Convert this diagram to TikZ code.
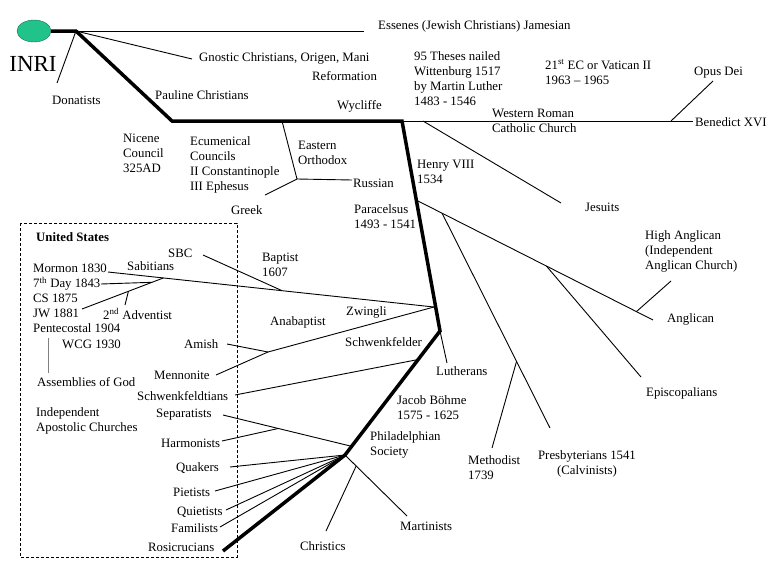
\documentclass[tikz,border=0pt]{standalone}
\usepackage{fontspec}
\setmainfont{Liberation Serif}
\usepackage{xcolor}
\usetikzlibrary{calc,shapes.geometric}

\definecolor{inrigreen}{HTML}{22C38A}
\definecolor{inriedge}{HTML}{1B6E4E}

\begin{document}
\begin{tikzpicture}[x=1pt, y=-1pt, font=\fontsize{12.8}{15}\selectfont,
  lbl/.style={inner sep=0pt, anchor=west, align=left},
  trunk/.style={line width=3.5pt},
  twig/.style={line width=0.9pt},
  usbox/.style={dash pattern=on 3pt off 2pt, line width=0.8pt}]
\useasboundingbox (0,0) rectangle (768,576);

\node (inri) [ellipse, draw=inriedge, fill=inrigreen, minimum width=34pt, minimum height=22pt, inner sep=0pt] at (34,31) {};
\node (inritxt) [inner sep=0pt, font=\fontsize{23}{26}\selectfont] at (33,64) {INRI};

\coordinate (t0) at (76,31);
\coordinate (t1) at (172,121);
\coordinate (t2) at (402,121);
\coordinate (t3) at (440,331);
\coordinate (t4) at (345,455);
\coordinate (t5) at (223,551);

\node (essenes) [lbl] at (378,26) {Essenes (Jewish Christians) Jamesian};
\node (gnostic) [lbl] at (199,58) {Gnostic Christians, Origen, Mani};
\node (donatists) [lbl] at (52,100) {Donatists};
\node (pauline) [lbl] at (155,95) {Pauline Christians};
\node (nicene) [lbl] at (123,153) {Nicene\\Council\\325AD};
\node (councils) [lbl] at (190,165) {Ecumenical\\Councils\\II Constantinople\\III Ephesus};
\node (eastern) [lbl] at (298,153) {Eastern\\Orthodox};
\node (russian) [lbl] at (353,183) {Russian};
\node (greek) [lbl] at (231,210) {Greek};
\node (reform) [lbl] at (312,76) {Reformation};
\node (wycliffe) [lbl] at (337,106) {Wycliffe};
\node (theses) [lbl] at (414,79) {95 Theses nailed\\Wittenburg 1517\\by Martin Luther\\1483 - 1546};
\node (vatican) [lbl] at (545,72) {21\textsuperscript{st} EC or Vatican II\\1963 – 1965};
\node (western) [lbl] at (492,121) {Western Roman\\Catholic Church};
\node (opus) [lbl] at (694,73) {Opus Dei};
\node (benedict) [lbl] at (695,122) {Benedict XVI};
\node (henry) [lbl] at (417,172) {Henry VIII\\1534};
\node (jesuits) [lbl] at (585,207) {Jesuits};
\node (paracelsus) [lbl] at (354,217) {Paracelsus\\1493 - 1541};
\node (highang) [lbl] at (645,251) {High Anglican\\(Independent\\Anglican Church)};
\node (anglican) [lbl] at (667,319) {Anglican};
\node (episc) [lbl] at (646,393) {Episcopalians};
\node (lutherans) [lbl] at (436,371) {Lutherans};
\node (methodist) [lbl] at (468,468) {Methodist\\1739};
\node (presby) [inner sep=0pt, align=center] at (587,464) {Presbyterians 1541\\(Calvinists)};
\node (jacob) [lbl] at (397,408) {Jacob Böhme\\1575 - 1625};
\node (phila) [lbl] at (370,445) {Philadelphian\\Society};
\node (martinists) [lbl] at (400,526) {Martinists};
\node (christics) [lbl] at (300,546) {Christics};
\node (baptist) [lbl] at (262,265) {Baptist\\1607};
\node (zwingli) [lbl] at (346,312) {Zwingli};
\node (anabaptist) [lbl] at (270,322) {Anabaptist};
\node (schwenk) [lbl] at (345,342) {Schwenkfelder};

\node (us) [lbl, font=\fontsize{12.8}{15}\selectfont\bfseries] at (36,237) {United States};
\node (sbc) [lbl] at (168,253) {SBC};
\node (sabitians) [lbl] at (127,266) {Sabitians};
\node (mormon) [lbl] at (33,268) {Mormon 1830};
\node (seventh) [lbl] at (33,284) {7\textsuperscript{th} Day 1843};
\node (cs) [lbl] at (33,298) {CS 1875};
\node (jw) [lbl] at (33,313) {JW 1881};
\node (adventist) [lbl] at (103,314) {2\textsuperscript{nd} Adventist};
\node (pentecostal) [lbl] at (33,328) {Pentecostal 1904};
\node (wcg) [lbl] at (62,344) {WCG 1930};
\node (assemblies) [lbl] at (37,382) {Assemblies of God};
\node (amish) [lbl] at (184,344) {Amish};
\node (mennonite) [lbl] at (154,375) {Mennonite};
\node (schwenkd) [lbl] at (137,396) {Schwenkfeldtians};
\node (apostolic) [lbl] at (36,421) {Independent\\Apostolic Churches};
\node (separatists) [lbl] at (156,415) {Separatists};
\node (harmonists) [lbl] at (161,443) {Harmonists};
\node (quakers) [lbl] at (176,468) {Quakers};
\node (pietists) [lbl] at (173,492) {Pietists};
\node (quietists) [lbl] at (177,512) {Quietists};
\node (familists) [lbl] at (171,528) {Familists};
\node (rosicrucians) [lbl] at (148,547) {Rosicrucians};

\coordinate (essend) at (364,31);
\coordinate (gnend) at (192,59);
\coordinate (dnend) at (57,83);
\coordinate (eo1) at (282,121);
\coordinate (eo2) at (297,179);
\coordinate (ruend) at (352,180);
\coordinate (grend) at (265,195);
\coordinate (rcend) at (693,121);
\coordinate (od1) at (671,121);
\coordinate (odend) at (713,81);
\coordinate (je1) at (423,121);
\coordinate (jeend) at (561,203);
\coordinate (an0) at (416,200);
\coordinate (anend) at (653,320);
\coordinate (an1) at ($(an0)!0.11!(anend)$);
\coordinate (an2) at ($(an0)!0.55!(anend)$);
\coordinate (an3) at ($(an0)!0.93!(anend)$);
\coordinate (haend) at (671,281);
\coordinate (epend) at (641,377);
\coordinate (prend) at (550,428);
\coordinate (me1) at ($(an1)!0.69!(prend)$);
\coordinate (meend) at (492,448);
\coordinate (luend) at (447,363);
\coordinate (bp0) at (434,307);
\coordinate (moend) at (108,272);
\coordinate (bp1) at ($(bp0)!0.466!(moend)$);
\coordinate (sbend) at (203,255);
\coordinate (sa) at ($(bp0)!0.83!(moend)$);
\coordinate (jwend) at (82,309);
\coordinate (sd1) at ($(sa)!0.14!(jwend)$);
\coordinate (sdend) at (101,284);
\coordinate (ad1) at ($(sa)!0.43!(jwend)$);
\coordinate (adend) at (125,305);
\coordinate (as1) at (48,338);
\coordinate (as2) at (48,373);
\coordinate (ab1) at (268,352);
\coordinate (mnend) at (216,375);
\coordinate (amend) at (227,344);
\coordinate (sw0) at ($(t3)!0.23!(t4)$);
\coordinate (swend) at (235,395);
\coordinate (sp0) at ($(t3)!0.93!(t4)$);
\coordinate (spend) at (223,415);
\coordinate (hm1) at ($(spend)!0.43!(sp0)$);
\coordinate (hmend) at (222,441);
\coordinate (qkend) at (230,467);
\coordinate (piend) at (215,491);
\coordinate (quend) at (226,510);
\coordinate (faend) at (220,527);
\coordinate (maend) at (407,516);
\coordinate (ch1) at ($(t4)!0.18!(maend)$);
\coordinate (chend) at (326,531);

\draw[trunk] (inri.east) -- (t0) -- (t1) -- (t2) -- (t3) -- (t4) -- (t5);
\draw[twig] (t0) -- (essend);
\draw[twig] (t0) -- (gnend);
\draw[twig] (t0) -- (dnend);
\draw[twig] (eo1) -- (eo2) -- (ruend);
\draw[twig] (eo2) -- (grend);
\draw[twig] (t2) -- (rcend);
\draw[twig] (od1) -- (odend);
\draw[twig] (je1) -- (jeend);
\draw[twig] (an0) -- (anend);
\draw[twig] (an3) -- (haend);
\draw[twig] (an2) -- (epend);
\draw[twig] (an1) -- (prend);
\draw[twig] (me1) -- (meend);
\draw[twig] (t3) -- (luend);
\draw[twig] (bp0) -- (moend);
\draw[twig] (bp1) -- (sbend);
\draw[twig] (sa) -- (jwend);
\draw[twig] (sd1) -- (sdend);
\draw[twig] (ad1) -- (adend);
\draw[twig, gray] (as1) -- (as2);
\draw[twig] (bp0) -- (ab1) -- (mnend);
\draw[twig] (amend) -- (ab1);
\draw[twig] (sw0) -- (swend);
\draw[twig] (sp0) -- (spend);
\draw[twig] (hm1) -- (hmend);
\foreach \e in {qkend,piend,quend,faend}
  \draw[twig] (t4) -- (\e);
\draw[twig] (t4) -- (maend);
\draw[twig] (ch1) -- (chend);

\draw[usbox] (20,223) rectangle (237,557);
\end{tikzpicture}
\end{document}
